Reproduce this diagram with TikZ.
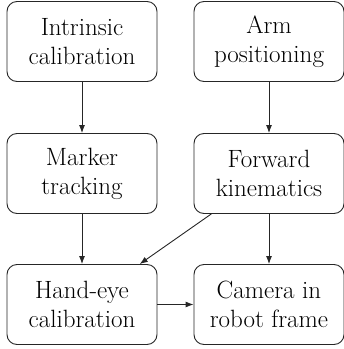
\documentclass[tikz,border=0pt]{standalone}
\usetikzlibrary{arrows.meta}
\begin{document}
\begin{tikzpicture}[x=1pt,y=-1pt,
  blk/.style={draw=black!85, line width=0.9pt, rounded corners=10pt,
    minimum width=150pt, minimum height=80pt, align=center,
    inner sep=0pt, font=\rmfamily\fontsize{25}{29}\selectfont},
  arr/.style={draw=black!85, line width=0.9pt, -{Latex[length=8pt,width=6pt]}}]
\useasboundingbox (0,0) rectangle (344,349);
\node[blk] (ic) at (82,41.5) {Intrinsic\\calibration};
\node[blk] (ap) at (269,41.5) {Arm\\positioning};
\node[blk] (mt) at (82,173.5) {Marker\\tracking};
\node[blk] (fk) at (269,173.5) {Forward\\kinematics};
\node[blk] (he) at (82,304.5) {Hand-eye\\calibration};
\node[blk] (cr) at (269,304.5) {Camera in\\robot frame};
\draw[arr] (ic) -- (mt);
\draw[arr] (ap) -- (fk);
\draw[arr] (mt) -- (he);
\draw[arr] (fk) -- (cr);
\draw[arr] (fk) -- (he);
\draw[arr] (he) -- (cr);
\end{tikzpicture}
\end{document}
